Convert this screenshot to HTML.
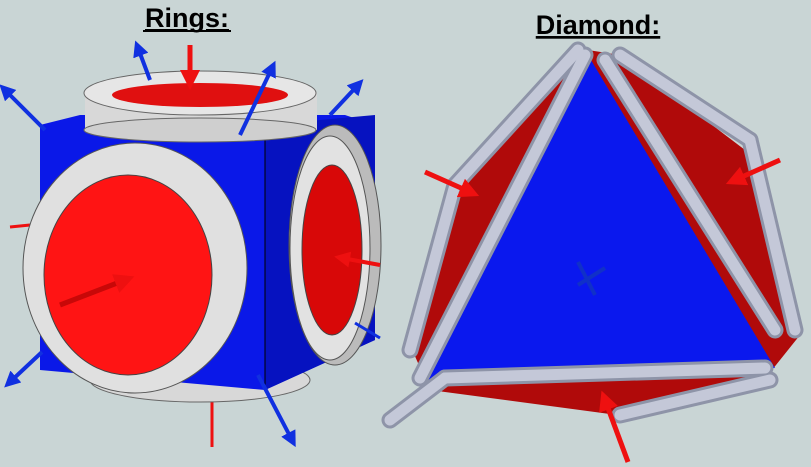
<!DOCTYPE html>
<html><head><meta charset="utf-8"><style>
html,body{margin:0;padding:0;background:#c9d5d5;}
svg{display:block;}
text{font-family:"Liberation Sans",sans-serif;font-weight:bold;}
</style></head><body>
<svg width="811" height="467" viewBox="0 0 811 467">
<rect width="811" height="467" fill="#c9d5d5"/>
<defs>
<marker id="ar" viewBox="0 0 10 10" refX="5" refY="5" markerWidth="4" markerHeight="4" orient="auto"><path d="M0,0L10,5L0,10z" fill="#ee1010"/></marker>
<marker id="ab" viewBox="0 0 10 10" refX="5" refY="5" markerWidth="4" markerHeight="4" orient="auto"><path d="M0,0L10,5L0,10z" fill="#1030e0"/></marker>
</defs>
<text x="187" y="27" font-size="27" text-anchor="middle" text-decoration="underline">Rings:</text>
<line x1="143" y1="31" x2="231" y2="31" stroke="#000" stroke-width="2"/>
<text x="598" y="34" font-size="27" text-anchor="middle" text-decoration="underline">Diamond:</text>

<g>
<line x1="10" y1="227" x2="30" y2="225" stroke="#ee1010" stroke-width="3"/>
<line x1="212" y1="400" x2="212" y2="447" stroke="#ee1010" stroke-width="3"/>
<ellipse cx="200" cy="380" rx="110" ry="22" fill="#d8d8d8" stroke="#666"/>
<polygon points="80,115 345,115 375,125 375,340 265,390 40,370 40,125" fill="#0a18e8"/>
<polygon points="265,125 375,115 375,340 265,390" fill="#0612c0"/>
<line x1="265" y1="125" x2="265" y2="390" stroke="#000" stroke-width="1"/>
<ellipse cx="135" cy="268" rx="112" ry="125" fill="#e0e0e0" stroke="#555"/>
<ellipse cx="128" cy="275" rx="84" ry="100" fill="#ff1414" stroke="#444"/>
<ellipse cx="335" cy="245" rx="46" ry="120" fill="#bbbbbb" stroke="#555"/>
<ellipse cx="330" cy="248" rx="40" ry="112" fill="#e2e2e2" stroke="#555"/>
<ellipse cx="332" cy="250" rx="30" ry="85" fill="#d80808" stroke="#444"/>
<rect x="85" y="92" width="232" height="38" fill="#d8d8d8"/>
<ellipse cx="200" cy="130" rx="116" ry="12" fill="#cfcfcf" stroke="#666"/>
<ellipse cx="200" cy="93" rx="116" ry="22" fill="#e6e6e6" stroke="#666"/>
<ellipse cx="200" cy="95" rx="88" ry="12" fill="#e01010"/>
<line x1="190" y1="45" x2="190" y2="80" stroke="#ee1010" stroke-width="5" marker-end="url(#ar)"/>
<line x1="60" y1="305" x2="125" y2="280" stroke="#c80808" stroke-width="5" marker-end="url(#ar)"/>
<line x1="380" y1="265" x2="342" y2="258" stroke="#ee1010" stroke-width="4" marker-end="url(#ar)"/>
<line x1="150" y1="80" x2="138" y2="48" stroke="#1030e0" stroke-width="4" marker-end="url(#ab)"/>
<line x1="240" y1="135" x2="272" y2="68" stroke="#1030e0" stroke-width="4" marker-end="url(#ab)"/>
<line x1="45" y1="130" x2="5" y2="90" stroke="#1030e0" stroke-width="4" marker-end="url(#ab)"/>
<line x1="330" y1="115" x2="358" y2="85" stroke="#1030e0" stroke-width="4" marker-end="url(#ab)"/>
<line x1="42" y1="352" x2="10" y2="382" stroke="#1030e0" stroke-width="4" marker-end="url(#ab)"/>
<line x1="258" y1="375" x2="292" y2="440" stroke="#1030e0" stroke-width="4" marker-end="url(#ab)"/>
<line x1="355" y1="323" x2="380" y2="338" stroke="#1030e0" stroke-width="3"/>
</g>

<g>
<polygon points="575,48 620,55 745,150 800,335 760,385 640,418 430,390 410,345 455,195" fill="#b00a0a"/>
<polygon points="585,50 775,368 418,385" fill="#0a18ee"/>
<g stroke="#8e94a8" stroke-width="17" stroke-linecap="round" fill="none">
<line x1="578" y1="50" x2="455" y2="185"/><line x1="455" y1="185" x2="410" y2="350"/>
<line x1="620" y1="55" x2="750" y2="140"/><line x1="750" y1="140" x2="795" y2="330"/>
<line x1="585" y1="55" x2="420" y2="378"/><line x1="605" y1="60" x2="775" y2="330"/>
<line x1="445" y1="378" x2="765" y2="368"/><line x1="445" y1="378" x2="390" y2="420"/>
<line x1="620" y1="415" x2="770" y2="380"/>
</g>
<g stroke="#c4c8d8" stroke-width="11" stroke-linecap="round" fill="none">
<line x1="578" y1="50" x2="455" y2="185"/><line x1="455" y1="185" x2="410" y2="350"/>
<line x1="620" y1="55" x2="750" y2="140"/><line x1="750" y1="140" x2="795" y2="330"/>
<line x1="585" y1="55" x2="420" y2="378"/><line x1="605" y1="60" x2="775" y2="330"/>
<line x1="445" y1="378" x2="765" y2="368"/><line x1="445" y1="378" x2="390" y2="420"/>
<line x1="620" y1="415" x2="770" y2="380"/>
</g>
<line x1="425" y1="172" x2="470" y2="192" stroke="#ee1010" stroke-width="5" marker-end="url(#ar)"/>
<line x1="780" y1="160" x2="735" y2="180" stroke="#ee1010" stroke-width="5" marker-end="url(#ar)"/>
<line x1="628" y1="462" x2="605" y2="400" stroke="#ee1010" stroke-width="5" marker-end="url(#ar)"/>
<line x1="595" y1="295" x2="578" y2="262" stroke="#1030c8" stroke-width="4"/>
<line x1="578" y1="285" x2="605" y2="268" stroke="#1030c8" stroke-width="4"/>
</g>
</svg>
</body></html>
